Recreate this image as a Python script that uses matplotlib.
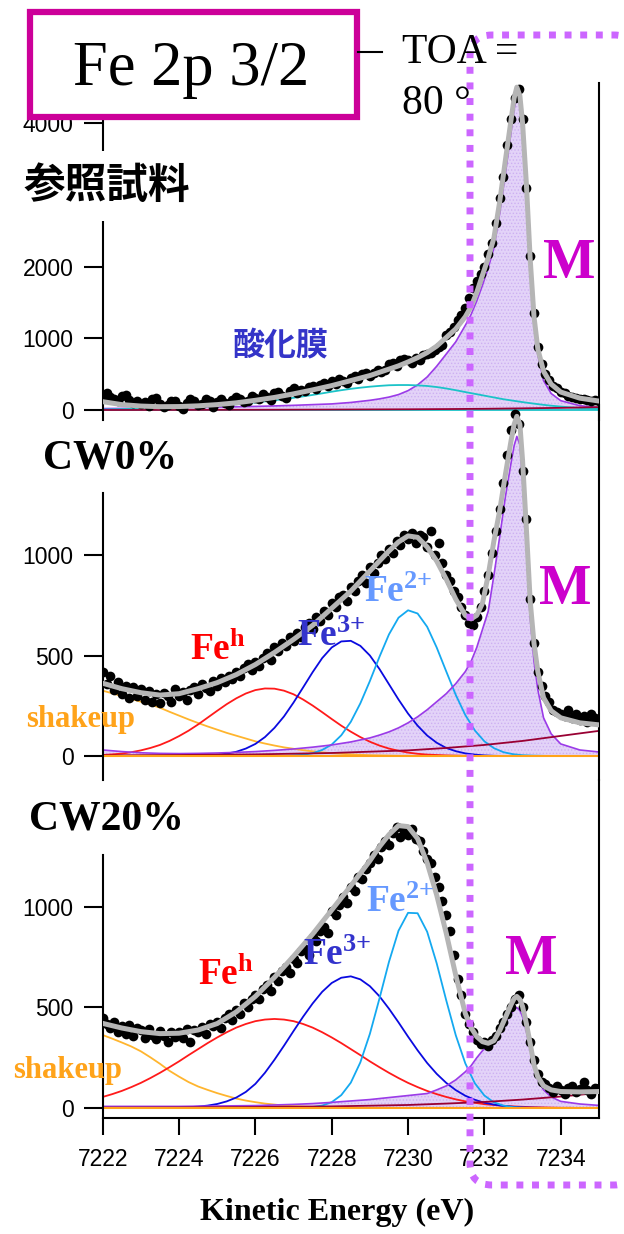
import numpy as np
import matplotlib
matplotlib.use('Agg')
import matplotlib.pyplot as plt
from matplotlib.patches import Rectangle, PathPatch
from matplotlib.path import Path

plt.rcParams['font.family'] = ['Liberation Sans', 'DejaVu Sans']
plt.rcParams['mathtext.fontset'] = 'custom'
plt.rcParams['mathtext.rm'] = 'Liberation Serif:bold'
plt.rcParams['mathtext.bf'] = 'Liberation Serif:bold'
plt.rcParams['mathtext.it'] = 'Liberation Serif:italic'
plt.rcParams['hatch.linewidth'] = 0.6

# ---- kinetic energy grids (eV) ----
ke_dots = np.round(np.arange(7222.0, 7235.01, 0.1), 1)   # measured points
ke_q = np.arange(7222.0, 7235.01, 0.25)                  # broad components
ke_f = [7222.0, 7222.5, 7223.0, 7223.5, 7224.0, 7224.5, 7225.0, 7225.5, 7226.0, 7226.5,
        7227.0, 7227.5, 7228.0, 7228.5, 7229.0, 7229.25, 7229.5, 7229.75, 7230.0, 7230.25,
        7230.5, 7230.75, 7231.0, 7231.25, 7231.5, 7231.65, 7231.8, 7231.95, 7232.1, 7232.25,
        7232.4, 7232.55, 7232.7, 7232.78, 7232.85, 7232.93, 7233.0, 7233.1, 7233.2, 7233.3,
        7233.4, 7233.55, 7233.75, 7234.0, 7234.5, 7235.0]   # metal peak + envelope
ke_bg = [7222, 7224, 7226, 7228, 7230, 7231, 7232, 7233, 7234, 7235]

# ---- reference sample ----
ref_counts = [200, 230, 180, 150, 120, 190, 210, 140, 100, 130,
              80, 110, 60, 150, 170, 90, 40, 70, 130, 120,
              60, 20, 100, 150, 130, 70, 90, 160, 120, 40,
              110, 150, 100, 70, 140, 180, 160, 110, 130, 200,
              170, 150, 220, 180, 140, 230, 250, 200, 170, 260,
              300, 230, 280, 260, 320, 340, 290, 350, 380, 330,
              400, 360, 430, 410, 380, 450, 470, 430, 500, 520,
              480, 520, 560, 530, 560, 640, 660, 620, 690, 710,
              700, 660, 720, 690, 760, 780, 800, 830, 880, 900,
              1040, 1090, 1150, 1260, 1330, 1420, 1560, 1700, 1800, 1900,
              2000, 2180, 2330, 2600, 2950, 3250, 3700, 4050, 4350, 4480,
              4050, 3100, 2150, 1350, 880, 640, 500, 420, 340, 300,
              250, 230, 200, 180, 170, 150, 160, 140, 130, 140,
              120]
ref_fit = [116, 75, 55, 46, 48, 58, 75, 100, 135, 175,
           225, 280, 340, 410, 480, 525, 570, 615, 670, 730,
           800, 890, 1010, 1130, 1300, 1440, 1640, 1880, 2120, 2400,
           2900, 3480, 4050, 4350, 4500, 4380, 4000, 3150, 2100, 1300,
           850, 540, 360, 250, 165, 125]
ref_metal = [20, 22, 25, 27, 30, 35, 40, 45, 50, 57,
             65, 75, 85, 105, 135, 155, 180, 215, 270, 350,
             460, 610, 780, 950, 1180, 1330, 1520, 1740, 1980, 2260,
             2740, 3300, 3880, 4200, 4380, 4260, 3880, 3040, 2000, 1220,
             770, 410, 230, 130, 60, 35]
ref_oxide = [8, 10, 12, 15, 18, 21, 25, 30, 35, 41, 48, 55,
             62, 71, 80, 92, 105, 120, 135, 152, 170, 190, 210, 232,
             255, 276, 295, 311, 325, 336, 345, 348, 348, 343, 335, 320,
             300, 276, 250, 225, 200, 175, 150, 130, 110, 92, 75, 60,
             48, 37, 28, 21, 15]
ref_bg = [0, 1, 3, 6, 10, 13, 17, 23, 30, 40]

# ---- CW0% ----
cw0_counts = [420, 360, 400, 330, 370, 310, 350, 290, 345, 300,
              335, 280, 325, 270, 310, 265, 315, 300, 270, 335,
              300, 320, 280, 330, 345, 310, 360, 340, 325, 375,
              350, 390, 370, 400, 385, 420, 400, 440, 460, 430,
              470, 450, 490, 510, 480, 540, 520, 560, 545, 590,
              570, 610, 590, 640, 660, 630, 690, 670, 720, 700,
              760, 740, 790, 800, 770, 840, 820, 870, 900, 860,
              940, 910, 960, 1000, 980, 1030, 1010, 1070, 1050, 1100,
              1080, 1110, 1060, 1100, 1090, 1040, 1120, 1000, 1060, 960,
              900, 870, 820, 790, 740, 700, 660, 650, 690, 740,
              820, 900, 1010, 1120, 1230, 1360, 1500, 1620, 1700, 1650,
              1420, 1180, 780, 560, 420, 350, 300, 270, 230, 220,
              210, 200, 230, 190, 210, 180, 200, 170, 210, 190,
              180]
cw0_fit = [362, 335, 315, 303, 310, 335, 365, 405, 455, 515,
           580, 650, 735, 820, 920, 970, 1020, 1065, 1095, 1088,
           1040, 970, 880, 780, 700, 682, 700, 760, 900, 1070,
           1220, 1400, 1570, 1650, 1690, 1650, 1470, 1130, 770, 560,
           420, 290, 225, 190, 165, 155]
cw0_metal = [30, 22, 16, 13, 12, 13, 15, 18, 22, 28,
             35, 44, 55, 70, 90, 104, 120, 140, 165, 195,
             230, 270, 310, 360, 420, 470, 540, 630, 720, 900,
             1090, 1290, 1460, 1545, 1590, 1550, 1380, 1040, 690, 470,
             330, 190, 110, 60, 30, 20]
cw0_feh = [5, 8, 12, 19, 28, 40, 55, 75, 99, 126, 157, 191,
           225, 258, 287, 311, 328, 336, 335, 325, 307, 281, 251, 218,
           184, 151, 121, 94, 71, 52, 37, 26, 17, 11, 7, 5,
           3, 2, 1, 0] + [0] * 13
cw0_fe3 = [0] * 9 + [1, 2, 3,
           6, 12, 21, 37, 60, 94, 140, 197, 266, 341, 417, 487,
           540, 570, 573, 548, 500, 433, 357, 281, 211, 151, 102, 66,
           40, 24, 13, 7, 3, 1] + [0] * 11
cw0_fe2 = [0] * 20 + [3, 6, 14, 30, 57, 103, 170, 262,
           373, 493, 605, 688, 725, 709, 643, 540, 421, 304, 204, 127,
           73, 39, 19, 9, 4, 2, 1] + [0] * 6
cw0_shake = [325, 312, 298, 284, 270, 256, 240, 220, 201, 182, 164, 147,
             131, 115, 101, 87, 73, 62, 52, 43, 36, 29, 23, 18,
             14, 11, 8, 6, 4, 3, 2, 1, 1] + [0] * 20
cw0_bg = [3, 5, 8, 15, 28, 40, 55, 75, 100, 125]

# ---- CW20% ----
cw20_counts = [450, 420, 400, 430, 380, 410, 370, 415, 360, 400,
               390, 350, 395, 365, 345, 385, 360, 330, 380, 355,
               380, 350, 395, 330, 390, 380, 405, 370, 420, 410,
               430, 400, 450, 470, 440, 490, 470, 520, 500, 540,
               560, 540, 590, 610, 580, 650, 630, 680, 700, 670,
               740, 720, 780, 790, 760, 850, 830, 880, 900, 870,
               980, 960, 1010, 1050, 1020, 1100, 1080, 1150, 1140, 1190,
               1220, 1260, 1240, 1300, 1330, 1310, 1370, 1400, 1350, 1380,
               1360, 1390, 1340, 1330, 1280, 1240, 1220, 1150, 1100, 1030,
               960, 880, 760, 640, 560, 470, 420, 380, 340, 320,
               330, 310, 340, 360, 400, 430, 470, 500, 540, 560,
               500, 430, 330, 240, 170, 130, 120, 100, 80, 110,
               90, 70, 100, 110, 80, 95, 130, 90, 70, 100,
               100]
cw20_fit = [421, 398, 380, 370, 372, 388, 420, 478, 555, 650,
            755, 865, 985, 1105, 1230, 1300, 1360, 1405, 1400, 1340,
            1220, 1060, 870, 660, 470, 400, 355, 330, 322, 335,
            385, 450, 515, 545, 555, 540, 505, 420, 320, 215,
            155, 110, 90, 82, 80, 82]
cw20_metal = [8, 8, 8, 8, 8, 9, 10, 11, 12, 15,
              18, 22, 28, 35, 42, 47, 52, 57, 62, 67,
              72, 90, 110, 140, 180, 210, 250, 285, 315, 345,
              385, 430, 470, 490, 500, 485, 455, 380, 290, 200,
              140, 90, 55, 33, 20, 13]
cw20_feh = [55, 69, 85, 104, 125, 149, 175, 203, 232, 263, 293, 323,
            351, 377, 400, 418, 432, 440, 443, 440, 432, 418, 400, 377,
            351, 323, 293, 263, 232, 203, 175, 149, 125, 104, 85, 69,
            55, 43, 33, 26, 19, 15, 11, 8, 6, 4, 3, 2,
            1, 1, 0, 0, 0]
cw20_fe3 = [0] * 8 + [2, 4, 7, 12,
            20, 33, 52, 80, 120, 175, 240, 310, 383, 454, 520, 578,
            622, 648, 655, 640, 606, 556, 494, 426, 355, 287, 224, 170,
            125, 89, 61, 41, 26, 17, 10, 6, 3, 2, 1] + [0] * 6
cw20_fe2 = [0] * 22 + [5, 12, 29, 64, 126, 227,
            369, 544, 727, 882, 971, 969, 877, 720, 536, 362, 222, 123,
            62, 28, 12, 4, 1] + [0] * 8
cw20_shake = [363, 345, 326, 306, 282, 252, 220, 185, 156, 129, 107, 90,
              74, 60, 47, 37, 29, 22, 17, 12, 9, 7, 5, 3,
              2, 1, 1] + [0] * 26
cw20_bg = [2, 3, 5, 8, 15, 22, 30, 42, 57, 75]

# colours
c_fit = '#B5B5B5'
c_metal, c_fill = '#9B3BE8', '#E3D3F8'
c_oxide = '#1BC3C8'
c_fe2, c_fe3, c_feh = '#14A9F0', '#0A0AE0', '#FF1A1A'
c_shake, c_bg = '#FFB52E', '#990033'
c_mag = '#CC00CC'

W, H = 624, 1234
fig = plt.figure(figsize=(W / 100, H / 100), dpi=100)
X0, X1 = 102.7, 598.9


def panel(top, bottom, ylim, spine_top):
    ax = fig.add_axes([X0 / W, 1 - bottom / H, (X1 - X0) / W, (bottom - top) / H])
    ax.set_xlim(7222, 7235)
    ax.set_ylim(*ylim)
    ax.patch.set_alpha(0)
    ax.spines['top'].set_visible(False)
    ax.spines['bottom'].set_visible(False)
    for s in ('left', 'right', 'bottom'):
        ax.spines[s].set_linewidth(1.5)
    ax.spines['left'].set_bounds(ylim[0], spine_top)
    ax.tick_params(axis='y', direction='out', length=14, width=1.5, labelsize=16.5, pad=7)
    ax.tick_params(axis='x', bottom=False, labelbottom=False)
    return ax


def draw_common(ax, fit, metal, counts, bg):
    ax.fill_between(ke_f, metal, 0, facecolor=c_fill, edgecolor='#CDB0F2',
                    hatch='.....', lw=0, zorder=1)
    ax.plot(ke_f, metal, color=c_metal, lw=1.2, zorder=2)
    ax.plot(ke_bg, bg, color=c_bg, lw=1.3, zorder=2.2)
    ax.plot(ke_dots, counts, 'o', ms=7, color='black', mec='none', zorder=3)
    ax.plot(ke_f, fit, color=c_fit, lw=3.6, solid_capstyle='round', zorder=4)


serif = 'Liberation Serif'
lab = dict(ha='center', va='center', fontweight='bold', family=serif, zorder=6)
jp = ['Noto Sans CJK JP', 'DejaVu Sans']

# reference sample
ax1 = panel(80, 420, (-139.4, 4600), 4600)
ax1.spines['right'].set_bounds(-139.4, 4557)
ax1.set_yticks([0, 1000, 2000, 4000])
ax1.axhline(0, color=c_oxide, lw=1.3, zorder=2)
ax1.plot(ke_q, ref_oxide, color=c_oxide, lw=1.3, zorder=2.1)
draw_common(ax1, ref_fit, ref_metal, ref_counts, ref_bg)
ax1.text(7222.11, 3122, '参照試料', ha='center', va='center', fontsize=30,
         fontweight='bold', family=jp, zorder=6,
         bbox=dict(facecolor='white', edgecolor='none', pad=10))
ax1.text(7226.65, 892, '酸化膜', ha='center', va='center', fontsize=23, color='#3434C8',
         fontweight='bold', family=jp, zorder=6)
ax1.text(7234.22, 2035, 'M', color=c_mag, fontsize=40, **lab)

fe_h = r'$\mathbf{Fe}^{\mathbf{h}}$'
fe_3 = r'$\mathbf{Fe}^{\mathbf{3}{+}}$'
fe_2 = r'$\mathbf{Fe}^{\mathbf{2}{+}}$'

# CW0%
ax2 = panel(405, 780, (-119.4, 1746.3), 1308)
ax2.set_yticks([0, 500, 1000])
ax2.plot(ke_q, cw0_shake, color=c_shake, lw=1.3, zorder=2)
ax2.plot(ke_q, cw0_feh, color=c_feh, lw=1.3, zorder=2)
ax2.plot(ke_q, cw0_fe3, color=c_fe3, lw=1.3, zorder=2)
ax2.plot(ke_q, cw0_fe2, color=c_fe2, lw=1.3, zorder=2)
ax2.axhline(0, color='#FFA31A', lw=1.5, zorder=2.3)
draw_common(ax2, cw0_fit, cw0_metal, cw0_counts, cw0_bg)
ax2.text(7222.19, 1478, 'CW0%', color='black', fontsize=30, **lab)
ax2.text(7234.12, 826, 'M', color=c_mag, fontsize=40, **lab)
ax2.text(7225.02, 527, fe_h, color='#FF0000', fontsize=27, **lab)
ax2.text(7228.0, 597, fe_3, color='#3333CC', fontsize=27, **lab)
ax2.text(7229.74, 811, fe_2, color='#6699FF', fontsize=27, **lab)
ax2.text(7221.43, 184, 'shakeup', color='#FFA31A', fontsize=22, **lab)

# CW20%
ax3 = panel(780, 1118, (-49.75, 1631.8), 1259)
ax3.set_yticks([0, 500, 1000])
ax3.spines['bottom'].set_visible(True)
ax3.set_xticks(np.arange(7222, 7235, 2))
ax3.tick_params(axis='x', bottom=True, labelbottom=True, direction='out',
                length=12.5, width=1.5, labelsize=16.5, pad=9)
ax3.plot(ke_q, cw20_shake, color=c_shake, lw=1.3, zorder=2)
ax3.plot(ke_q, cw20_feh, color=c_feh, lw=1.3, zorder=2)
ax3.plot(ke_q, cw20_fe3, color=c_fe3, lw=1.3, zorder=2)
ax3.plot(ke_q, cw20_fe2, color=c_fe2, lw=1.3, zorder=2)
ax3.axhline(0, color='#FFA31A', lw=1.5, zorder=2.3)
draw_common(ax3, cw20_fit, cw20_metal, cw20_counts, cw20_bg)
ax3.text(7222.11, 1433, 'CW20%', color='black', fontsize=30, **lab)
ax3.text(7233.22, 736, 'M', color=c_mag, fontsize=40, **lab)
ax3.text(7225.23, 662, fe_h, color='#FF0000', fontsize=27, **lab)
ax3.text(7228.14, 761, fe_3, color='#3333CC', fontsize=27, **lab)
ax3.text(7229.79, 1020, fe_2, color='#6699FF', fontsize=27, **lab)
ax3.text(7221.07, 189, 'shakeup', color='#FFA31A', fontsize=22, **lab)
ax3.set_xlabel('Kinetic Energy (eV)', fontsize=23, fontweight='bold', family=serif)
ax3.xaxis.set_label_coords(0.472, -0.237)

# overlay in pixel units: title box, take-off angle and the dotted marker frame
ov = fig.add_axes([0, 0, 1, 1])
ov.set_xlim(0, W)
ov.set_ylim(H, 0)
ov.axis('off')
ov.set_zorder(10)
ov.add_patch(Rectangle((29.5, 12), 327, 105, facecolor='white', edgecolor='#CC0099', lw=4.5))
ov.text(191, 85, 'Fe 2p 3/2', ha='center', va='baseline', fontsize=45, family=serif)
ov.plot([358, 382], [52, 52], color='black', lw=1.5)
ov.text(402, 63, 'TOA =', ha='left', va='baseline', fontsize=30, family=serif)
ov.text(402, 114, '80 °', ha='left', va='baseline', fontsize=30, family=serif)

# open frame: left side and rounded corners, right side runs off the page
fx0, fx1, fy0, fy1, r = 470, 636, 35, 1185, 22
frame = Path([(fx1, fy0 + r), (fx1, fy0), (fx1 - r, fy0),
              (fx0 + r, fy0), (fx0, fy0), (fx0, fy0 + r),
              (fx0, fy1 - r), (fx0, fy1), (fx0 + r, fy1),
              (fx1 - r, fy1), (fx1, fy1), (fx1, fy1 - r)],
             [Path.MOVETO, Path.CURVE3, Path.CURVE3,
              Path.LINETO, Path.CURVE3, Path.CURVE3,
              Path.LINETO, Path.CURVE3, Path.CURVE3,
              Path.LINETO, Path.CURVE3, Path.CURVE3])
ov.add_patch(PathPatch(frame, fill=False, edgecolor='#CC66FF', lw=5,
                       linestyle=(0, (1, 1.25))))

fig.savefig('out.png', dpi=100)
